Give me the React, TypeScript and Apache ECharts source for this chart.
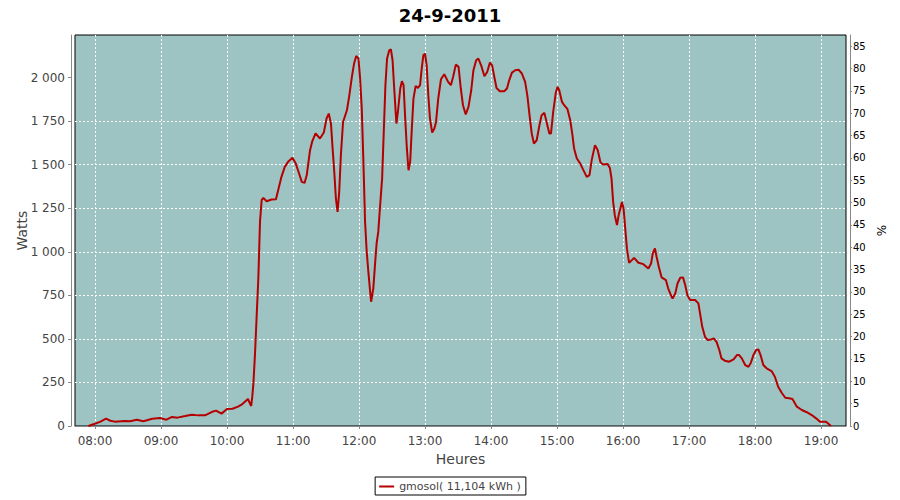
import React, { useEffect, useRef } from "react";
import * as echarts from "echarts";

const DAY = "2011-09-24";
const TITLE = "24-9-2011";
const SERIES_NAME = "gmosol( 11,104 kWh )";
const X_MIN = "07:41:50";
const X_MAX = "19:22:40";
const WATT_MAX = 2244;
const PCT_MAX = 87.5;
const WATT_TICKS = [0, 250, 500, 750, 1000, 1250, 1500, 1750, 2000];
const PCT_TICKS = [0, 5, 10, 15, 20, 25, 30, 35, 40, 45, 50, 55, 60, 65, 70, 75, 80, 85];

const times: string[] = [
  "07:54:00", "08:00:00", "08:05:00", "08:10:00", "08:14:00", "08:18:00", "08:27:00", "08:32:00",
  "08:38:00", "08:44:00", "08:52:00", "08:59:00", "09:05:00", "09:10:00", "09:15:00", "09:22:00",
  "09:28:00", "09:34:00", "09:40:00", "09:46:00", "09:50:00", "09:55:00", "10:00:00", "10:05:00",
  "10:10:00", "10:14:00", "10:19:00", "10:22:00", "10:23:00", "10:24:00", "10:25:30", "10:27:00",
  "10:28:30", "10:30:00", "10:31:30", "10:33:00", "10:36:00", "10:40:30", "10:44:30", "10:46:30",
  "10:49:30", "10:52:30", "10:56:00", "10:59:30", "11:02:30", "11:05:00", "11:08:00", "11:10:30",
  "11:12:30", "11:15:30", "11:17:30", "11:20:30", "11:24:30", "11:28:00", "11:30:30", "11:32:30",
  "11:34:30", "11:36:00", "11:37:30", "11:39:00", "11:40:30", "11:42:00", "11:43:30", "11:45:30",
  "11:49:00", "11:51:00", "11:53:30", "11:55:30", "11:57:30", "11:59:30", "12:01:00", "12:02:30",
  "12:04:00", "12:05:30", "12:07:00", "12:08:30", "12:10:00", "12:11:00", "12:13:00", "12:14:30",
  "12:16:00", "12:17:30", "12:19:00", "12:21:00", "12:22:30", "12:24:00", "12:25:30", "12:27:30",
  "12:29:00", "12:30:30", "12:32:00", "12:33:30", "12:34:00", "12:35:30", "12:37:30", "12:39:00",
  "12:40:30", "12:42:00", "12:43:30", "12:45:00", "12:46:30", "12:48:00", "12:49:30", "12:51:30",
  "12:53:30", "12:55:30", "12:57:00", "12:58:30", "13:00:00", "13:01:30", "13:03:00", "13:04:30",
  "13:06:30", "13:08:30", "13:10:00", "13:12:00", "13:14:30", "13:17:30", "13:21:00", "13:23:30",
  "13:25:30", "13:28:00", "13:30:30", "13:32:30", "13:34:30", "13:37:00", "13:39:30", "13:42:00",
  "13:44:00", "13:46:30", "13:48:30", "13:51:00", "13:54:00", "13:56:30", "13:59:00", "14:01:00",
  "14:03:00", "14:05:00", "14:08:00", "14:12:00", "14:14:30", "14:16:30", "14:19:00", "14:22:00",
  "14:25:00", "14:28:00", "14:31:00", "14:33:00", "14:35:00", "14:37:00", "14:39:00", "14:41:30",
  "14:44:00", "14:46:00", "14:48:30", "14:50:30", "14:53:00", "14:54:30", "14:56:30", "14:59:00",
  "15:00:30", "15:02:00", "15:04:30", "15:06:30", "15:09:30", "15:12:00", "15:14:00", "15:15:30",
  "15:18:00", "15:21:00", "15:23:30", "15:27:00", "15:29:30", "15:31:30", "15:34:30", "15:37:00",
  "15:39:30", "15:42:00", "15:46:00", "15:48:00", "15:49:30", "15:51:00", "15:52:30", "15:54:30",
  "15:56:00", "15:59:00", "16:00:30", "16:02:00", "16:03:30", "16:05:30", "16:08:00", "16:10:00",
  "16:14:00", "16:18:30", "16:23:00", "16:25:30", "16:27:00", "16:29:00", "16:30:30", "16:32:30",
  "16:35:00", "16:39:00", "16:41:00", "16:43:30", "16:45:00", "16:47:30", "16:49:30", "16:52:00",
  "16:54:30", "16:56:30", "16:58:30", "17:01:00", "17:05:30", "17:08:30", "17:10:00", "17:12:00",
  "17:14:30", "17:17:00", "17:20:00", "17:22:30", "17:25:00", "17:27:30", "17:29:30", "17:32:30",
  "17:36:30", "17:40:30", "17:43:30", "17:45:30", "17:48:00", "17:51:00", "17:54:00", "17:56:00",
  "17:58:30", "18:01:00", "18:03:00", "18:05:00", "18:07:30", "18:10:30", "18:15:00", "18:18:00",
  "18:21:00", "18:24:30", "18:27:30", "18:31:00", "18:34:00", "18:38:00", "18:42:30", "18:47:00",
  "18:51:30", "18:55:30", "18:59:00", "19:04:30", "19:09:00",
];

const watts: number[] = [
  0, 13, 25, 42, 30, 25, 29, 27,
  36, 27, 42, 46, 36, 52, 48, 57,
  65, 61, 61, 80, 88, 71, 97, 99,
  111, 126, 155, 115, 170, 245, 419, 637,
  849, 1172, 1296, 1309, 1290, 1300, 1302, 1353,
  1430, 1487, 1520, 1539, 1506, 1459, 1401, 1395,
  1440, 1583, 1634, 1680, 1650, 1684, 1765, 1793,
  1736, 1593, 1459, 1306, 1229, 1344, 1554, 1745,
  1812, 1889, 2003, 2080, 2124, 2109, 1994, 1822,
  1516, 1172, 1000, 885, 780, 713, 790, 923,
  1048, 1114, 1248, 1421, 1688, 1956, 2109, 2156,
  2162, 2099, 1937, 1784, 1736, 1812, 1937, 1979,
  1956, 1765, 1593, 1468, 1516, 1707, 1879, 1952,
  1940, 1956, 2051, 2128, 2137, 2070, 1898, 1765,
  1684, 1707, 1745, 1879, 1990, 2019, 1975, 1956,
  2003, 2074, 2061, 1937, 1841, 1788, 1831, 1927,
  2042, 2099, 2109, 2070, 2007, 2032, 2086, 2070,
  2003, 1940, 1921, 1921, 1937, 1984, 2028, 2042,
  2045, 2023, 1975, 1898, 1784, 1679, 1621, 1640,
  1726, 1784, 1797, 1745, 1679, 1679, 1803, 1917,
  1946, 1927, 1860, 1841, 1818, 1755, 1669, 1593,
  1535, 1507, 1474, 1430, 1440, 1526, 1612, 1583,
  1512, 1501, 1503, 1481, 1421, 1286, 1210, 1153,
  1210, 1286, 1248, 1134, 1019, 937, 952, 965,
  937, 929, 904, 933, 990, 1019, 971, 914,
  853, 837, 790, 751, 732, 761, 818, 851,
  853, 809, 751, 723, 723, 704, 646, 569,
  512, 493, 497, 503, 483, 436, 388, 375,
  369, 383, 407, 407, 388, 350, 340, 360,
  407, 436, 440, 407, 350, 331, 315, 283,
  225, 188, 162, 159, 155, 111, 92, 79,
  63, 44, 25, 25, 0,
];

const FONT = "DejaVu Sans";

function pad(n: number) {
  return n < 10 ? "0" + n : "" + n;
}

function fmtThousands(v: number) {
  return String(Math.round(v)).replace(/\B(?=(\d{3})+(?!\d))/g, " ");
}

export default function App() {
  const ref = useRef<HTMLDivElement>(null);

  useEffect(() => {
    if (!ref.current) return;
    const chart = echarts.init(ref.current, undefined, { renderer: "svg" });
    const data = times.map((t, i) => [`${DAY}T${t}`, watts[i]]);
    const gridLine = {
      show: true,
      showMinLine: false,
      showMaxLine: false,
      lineStyle: { color: "#ffffff", type: [2, 2] as any, width: 1 },
    };
    chart.setOption({
      animation: false,
      backgroundColor: "#ffffff",
      title: {
        text: TITLE,
        left: "center",
        top: 1,
        textStyle: { fontFamily: FONT, fontSize: 18, fontWeight: "bold", color: "#000" },
      },
      legend: {
        data: [SERIES_NAME],
        left: "center",
        top: 477,
        icon: "rect",
        itemWidth: 15,
        itemHeight: 2,
        itemGap: 4,
        borderColor: "#000",
        borderWidth: 1,
        padding: [4, 5, 3, 4],
        backgroundColor: "#fff",
        textStyle: { fontFamily: FONT, fontSize: 11, color: "#444" },
      },
      grid: {
        left: 75,
        right: 54,
        top: 35,
        bottom: 74,
        outerBoundsMode: "none",
        containLabel: false,
        show: true,
        backgroundColor: "#9EC3C3",
        borderColor: "#000",
        borderWidth: 1,
      },
      xAxis: {
        type: "time",
        min: `${DAY}T${X_MIN}`,
        max: `${DAY}T${X_MAX}`,
        minInterval: 3600 * 1000,
        maxInterval: 3600 * 1000,
        offset: 4,
        name: "Heures",
        nameLocation: "middle",
        nameGap: 22,
        nameMoveOverlap: false,
        nameTextStyle: { fontFamily: FONT, fontSize: 14, color: "#444", verticalAlign: "top" },
        axisLine: { show: true, lineStyle: { color: "#888" } },
        axisTick: { show: true, length: 3, lineStyle: { color: "#888" } },
        axisLabel: {
          fontFamily: FONT,
          fontSize: 12,
          color: "#444",
          margin: 5,
          hideOverlap: false,
          formatter: (val: number) => {
            const d = new Date(val);
            return pad(d.getHours()) + ":" + pad(d.getMinutes());
          },
        },
        splitLine: gridLine,
        minorTick: { show: false },
      },
      yAxis: [
        {
          type: "value",
          min: 0,
          max: WATT_MAX,
          interval: 250,
          offset: 4,
          name: "Watts",
          nameLocation: "middle",
          nameGap: 42,
          nameMoveOverlap: false,
          nameTextStyle: { fontFamily: FONT, fontSize: 14, color: "#444" },
          axisLine: { show: true, lineStyle: { color: "#888" } },
          axisTick: { show: true, length: 3, customValues: WATT_TICKS, lineStyle: { color: "#888" } },
          axisLabel: {
            fontFamily: FONT,
            fontSize: 12,
            color: "#444",
            margin: 6,
            customValues: WATT_TICKS,
            formatter: (v: number) => (v % 250 === 0 ? fmtThousands(v) : ""),
          },
          splitLine: gridLine,
        },
        {
          type: "value",
          min: 0,
          max: PCT_MAX,
          interval: 5,
          offset: 4,
          position: "right",
          name: "%",
          nameLocation: "middle",
          nameGap: 26,
          nameMoveOverlap: false,
          nameTextStyle: { fontFamily: FONT, fontSize: 12, color: "#000" },
          axisLine: { show: true, lineStyle: { color: "#888" } },
          axisTick: { show: true, length: 2, customValues: PCT_TICKS, lineStyle: { color: "#888" } },
          axisLabel: {
            fontFamily: FONT,
            fontSize: 10,
            color: "#000",
            margin: 3,
            customValues: PCT_TICKS,
            formatter: (v: number) => (v % 5 === 0 ? String(v) : ""),
          },
          splitLine: { show: false },
        },
      ],
      series: [
        {
          name: SERIES_NAME,
          type: "line",
          yAxisIndex: 0,
          data,
          showSymbol: false,
          symbol: "none",
          color: "#B40000",
          lineStyle: { color: "#B40000", width: 2 },
        },
      ],
    });
    return () => chart.dispose();
  }, []);

  return (
    <div
      ref={ref}
      style={{ position: "fixed", left: 0, top: 0, width: 900, height: 500 }}
    />
  );
}
